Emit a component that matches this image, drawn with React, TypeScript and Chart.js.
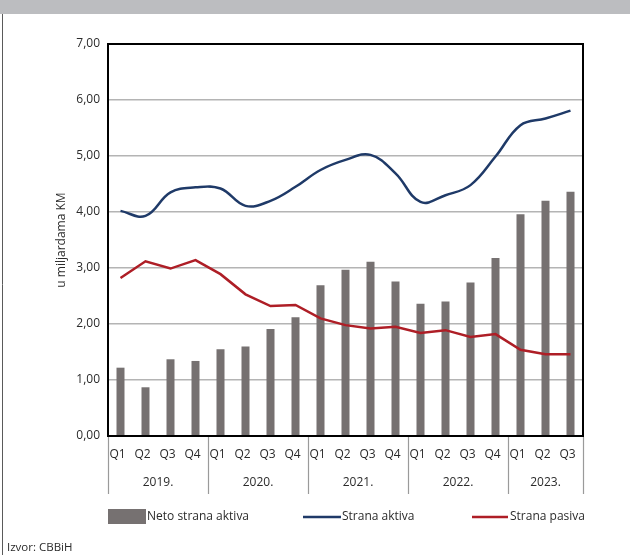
import React, { useEffect, useRef } from "react";
import { Chart, registerables } from "chart.js";

Chart.register(...registerables);

const categories = [
  "Q1", "Q2", "Q3", "Q4",
  "Q1", "Q2", "Q3", "Q4",
  "Q1", "Q2", "Q3", "Q4",
  "Q1", "Q2", "Q3", "Q4",
  "Q1", "Q2", "Q3",
];
const years = ["2019.", "2020.", "2021.", "2022.", "2023."];
const yearSpans = [4, 4, 4, 4, 3];

const netoStranaAktiva = [1.22, 0.87, 1.37, 1.34, 1.55, 1.6, 1.91, 2.12, 2.69, 2.97, 3.11, 2.76, 2.36, 2.4, 2.74, 3.18, 3.96, 4.2, 4.36];
const stranaAktiva = [4.02, 3.93, 4.35, 4.44, 4.42, 4.11, 4.2, 4.45, 4.75, 4.93, 5.02, 4.69, 4.18, 4.3, 4.48, 4.99, 5.55, 5.67, 5.81];
const stranaPasiva = [2.82, 3.12, 2.99, 3.14, 2.89, 2.53, 2.32, 2.34, 2.1, 1.98, 1.92, 1.95, 1.84, 1.89, 1.77, 1.82, 1.54, 1.46, 1.46];

const yTicks = [0, 1, 2, 3, 4, 5, 6, 7];

const FONT = "'Open Sans', 'Noto Sans', sans-serif";
const TEXT = "#2b2b2b";
const BAR = "#767171";
const BLUE = "#1f3a68";
const RED = "#ae1e26";

const framePlugin = {
  id: "framePlugin",
  afterDraw(chart: any) {
    const { ctx, chartArea, scales } = chart;
    const x = scales.x;
    const { left, right, top, bottom } = chartArea;
    const cw = (right - left) / categories.length;
    ctx.save();

    // header bar
    ctx.fillStyle = "#bcbdc0";
    ctx.fillRect(0, 0, chart.width, 14);
    // left frame line
    ctx.strokeStyle = "#5a5a5a";
    ctx.lineWidth = 1;
    ctx.beginPath();
    ctx.moveTo(2.5, 14);
    ctx.lineTo(2.5, 555);
    ctx.stroke();

    // plot border
    ctx.strokeStyle = "#000";
    ctx.lineWidth = 2;
    ctx.strokeRect(left, top, right - left, bottom - top);

    // year separators and labels
    ctx.strokeStyle = "#9a9a9a";
    ctx.lineWidth = 1.2;
    let idx = 0;
    const bounds: number[] = [0];
    yearSpans.forEach((s) => {
      idx += s;
      bounds.push(idx);
    });
    bounds.forEach((b) => {
      const px = Math.round(left + b * cw) + 0.5;
      ctx.beginPath();
      ctx.moveTo(px, bottom + 1);
      ctx.lineTo(px, 494);
      ctx.stroke();
    });
    ctx.fillStyle = TEXT;
    ctx.font = `12px ${FONT}`;
    ctx.textAlign = "center";
    ctx.textBaseline = "middle";
    years.forEach((yl, i) => {
      const a = x.getPixelForValue(bounds[i]) - cw / 2;
      const b = x.getPixelForValue(bounds[i + 1] - 1) + cw / 2;
      ctx.fillText(yl, (a + b) / 2, 483);
    });

    // legend
    const ly = 517;
    ctx.fillStyle = BAR;
    ctx.fillRect(108, 509, 38, 15);
    ctx.lineWidth = 2.5;
    ctx.strokeStyle = BLUE;
    ctx.beginPath();
    ctx.moveTo(303, ly);
    ctx.lineTo(341, ly);
    ctx.stroke();
    ctx.strokeStyle = RED;
    ctx.beginPath();
    ctx.moveTo(472, ly);
    ctx.lineTo(508, ly);
    ctx.stroke();
    ctx.fillStyle = TEXT;
    ctx.textAlign = "left";
    ctx.fillText("Neto strana aktiva", 147, ly);
    ctx.fillText("Strana aktiva", 342, ly);
    ctx.fillText("Strana pasiva", 510, ly);

    // source
    ctx.font = `11.5px ${FONT}`;
    ctx.fillText("Izvor: CBBiH", 7, 548);
    ctx.restore();
  },
};

export default function App() {
  const ref = useRef<HTMLCanvasElement>(null);
  useEffect(() => {
    if (!ref.current) return;
    const chart = new Chart(ref.current, {
      type: "bar",
      data: {
        labels: categories,
        datasets: [
          {
            type: "line",
            label: "Strana aktiva",
            data: stranaAktiva,
            borderColor: BLUE,
            borderWidth: 2.5,
            pointRadius: 0,
            tension: 0.4,
            order: 1,
          },
          {
            type: "line",
            label: "Strana pasiva",
            data: stranaPasiva,
            borderColor: RED,
            borderWidth: 2.5,
            pointRadius: 0,
            tension: 0,
            order: 2,
          },
          {
            type: "bar",
            label: "Neto strana aktiva",
            data: netoStranaAktiva,
            backgroundColor: BAR,
            barPercentage: 0.32,
            categoryPercentage: 1,
            order: 3,
          },
        ],
      },
      options: {
        responsive: false,
        animation: false,
        devicePixelRatio: 1,
        layout: { padding: { left: 0, top: 44, right: 47, bottom: 0 } },
        plugins: { legend: { display: false }, tooltip: { enabled: false } },
        scales: {
          x: {
            offset: true,
            grid: { display: false, drawTicks: false },
            border: { display: false },
            ticks: {
              color: TEXT,
              font: { family: FONT, size: 12 },
              padding: 11,
              labelOffset: -3,
              maxRotation: 0,
              autoSkip: false,
            },
            afterFit: (s: any) => {
              s.height = 123;
            },
          },
          y: {
            min: 0,
            max: 7,
            afterBuildTicks: (s: any) => {
              s.ticks = yTicks.map((v) => ({ value: v }));
            },
            grid: { color: "#b4b4b4", lineWidth: 1.5, drawTicks: false },
            border: { display: false },
            ticks: {
              color: TEXT,
              font: { family: FONT, size: 12 },
              padding: 8,
              callback: (v: any) => Number(v).toFixed(2).replace(".", ","),
            },
            title: {
              display: true,
              text: "u miljardama KM",
              color: TEXT,
              font: { family: FONT, size: 12 },
              padding: { top: 54, bottom: 0 },
            },
            afterFit: (s: any) => {
              s.width = 108;
            },
          },
        },
      },
      plugins: [framePlugin],
    });
    return () => chart.destroy();
  }, []);
  return (
    <div style={{ position: "absolute", left: 0, top: 0, width: 630, height: 559, background: "#fff" }}>
      <canvas ref={ref} width={630} height={559} />
    </div>
  );
}
